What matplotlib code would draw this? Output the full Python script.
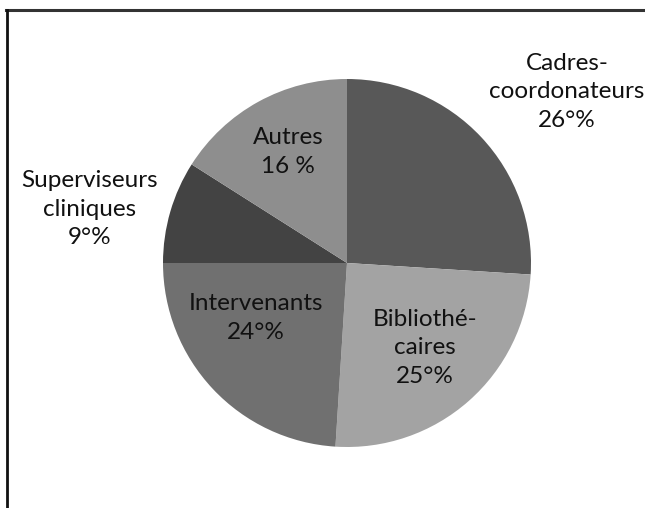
import matplotlib
matplotlib.use("Agg")
import matplotlib.pyplot as plt
from matplotlib.lines import Line2D

categories = ["Cadres-\ncoordonateurs", "Bibliothé-\ncaires", "Intervenants", "Superviseurs\ncliniques", "Autres"]
values = [26, 25, 24, 9, 16]
pct_labels = ["26°%", "25°%", "24°%", "9°%", "16 %"]
colors = ["#585858", "#a3a3a3", "#707070", "#434343", "#8e8e8e"]

W, H = 645, 508
fig = plt.figure(figsize=(W / 100, H / 100), dpi=100)
fig.patch.set_facecolor("white")
ax = fig.add_axes([0, 0, 1, 1])

cx, cy, r = 347, 263, 184
wedges, _ = ax.pie(values, colors=colors, startangle=90, counterclock=False,
                   center=(cx, H - cy), radius=r, frame=True,
                   wedgeprops=dict(linewidth=0))
ax.set_xlim(0, W)
ax.set_ylim(0, H)
ax.set_aspect("auto")
ax.axis("off")

label_pos = [(567, 92), (425, 348), (256, 318), (90, 209), (288, 152)]
for cat, pl, (x, y) in zip(categories, pct_labels, label_pos):
    ax.text(x, H - y, cat + "\n" + pl, ha="center", va="center", fontsize=17.5,
            family="Lato", color="#111111", linespacing=1.42)

# frame lines (top and left)
fig.add_artist(Line2D([6 / W, 1], [1 - 10 / H, 1 - 10 / H], color="#333333", lw=2.2,
                      transform=fig.transFigure))
fig.add_artist(Line2D([7 / W, 7 / W], [0, 1 - 10 / H], color="#111111", lw=2.0,
                      transform=fig.transFigure))

fig.savefig("out.png", dpi=100, facecolor="white")
